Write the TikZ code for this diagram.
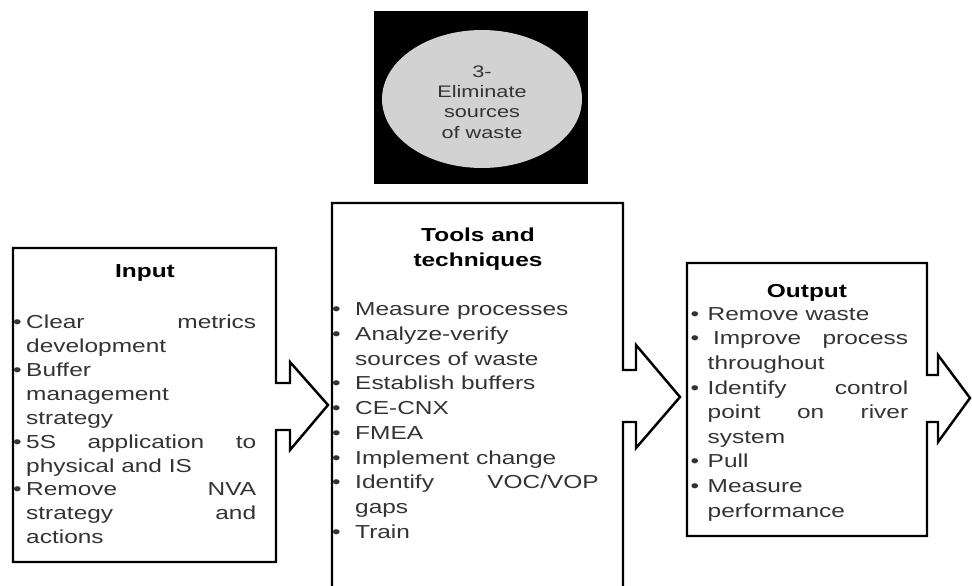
\documentclass[tikz,border=0pt]{standalone}
\usepackage{fontspec}
\setmainfont{Liberation Sans}[FakeStretch=1.3]
\usetikzlibrary{shapes.geometric}
\newlength{\bulletgap}
\newcommand{\bitem}{\par\noindent\hangindent=\bulletgap\hangafter=1\makebox[\bulletgap][l]{\textbullet}}
\newcommand{\listsetup}[1]{\hyphenpenalty=10000\exhyphenpenalty=10000\tolerance=10000\setlength{\bulletgap}{#1}}
\begin{document}
\begin{tikzpicture}[x=0.02cm,y=-0.02cm,line width=1.4pt,
heading/.style={font=\bfseries\fontsize{10.7}{13.5}\selectfont,inner sep=0pt,align=center},
itemlist/.style={anchor=north west,inner sep=0pt,align=justify,text=black!80,font=\fontsize{10.7}{13.6}\selectfont}]
\useasboundingbox (0,0) rectangle (972,585);
\draw (481,97.5) node[fill=black,minimum width=4.28cm,minimum height=3.46cm] (goalbg) {};
\draw (482,99) node[ellipse,fill=gray!35,minimum width=4cm,minimum height=2.76cm,inner sep=0pt] (goal) {};
\draw (482,102) node[inner sep=0pt,text=black!80,align=center,font=\fontsize{9.5}{11.6}\selectfont] (goaltext) {3-\\Eliminate\\sources\\of waste};
\draw (13,248) -- (276,248) -- (276,383) -- (290,383) -- (290,362) -- (328,405) -- (290,450) -- (290,430) -- (276,430) -- (276,562) -- (13,562) -- cycle;
\draw (332,590) -- (332,203) -- (623,203) -- (623,370) -- (636,370) -- (636,345) -- (680,397) -- (636,448) -- (636,422) -- (623,422) -- (623,590);
\draw (687,263) -- (927,263) -- (927,375) -- (938,375) -- (938,355) -- (970,398) -- (938,442) -- (938,422) -- (927,422) -- (927,536) -- (687,536) -- cycle;
\draw (145,277) node[heading,anchor=base] (intitle) {Input};
\draw (478,249) node[heading,font=\bfseries\fontsize{10.7}{14.3}\selectfont] (tooltitle) {Tools and\\techniques};
\draw (807,297) node[heading,anchor=base] (outtitle) {Output};
\draw (12,303.5) node[itemlist,text width=4.86cm] (initems) {\listsetup{0.26cm}%
\bitem Clear metrics\linebreak development
\bitem Buffer\linebreak management\linebreak strategy
\bitem 5S application to\linebreak physical and IS
\bitem Remove NVA\linebreak strategy and\linebreak actions\par};
\draw (331,289.5) node[itemlist,text width=5.33cm,font=\fontsize{10.7}{14.1}\selectfont] (toolitems) {\listsetup{0.46cm}%
\bitem Measure processes
\bitem Analyze-verify\linebreak sources of waste
\bitem Establish buffers
\bitem CE-CNX
\bitem FMEA
\bitem Implement change
\bitem Identify VOC/VOP\linebreak gaps
\bitem Train\par};
\draw (689.5,294.5) node[itemlist,text width=4.35cm,font=\fontsize{10.7}{14}\selectfont] (outitems) {\listsetup{0.34cm}%
\bitem Remove waste
\bitem\hspace{3pt}Improve process\linebreak throughout
\bitem Identify control\linebreak point on river\linebreak system
\bitem Pull
\bitem Measure\linebreak performance\par};
\end{tikzpicture}
\end{document}
